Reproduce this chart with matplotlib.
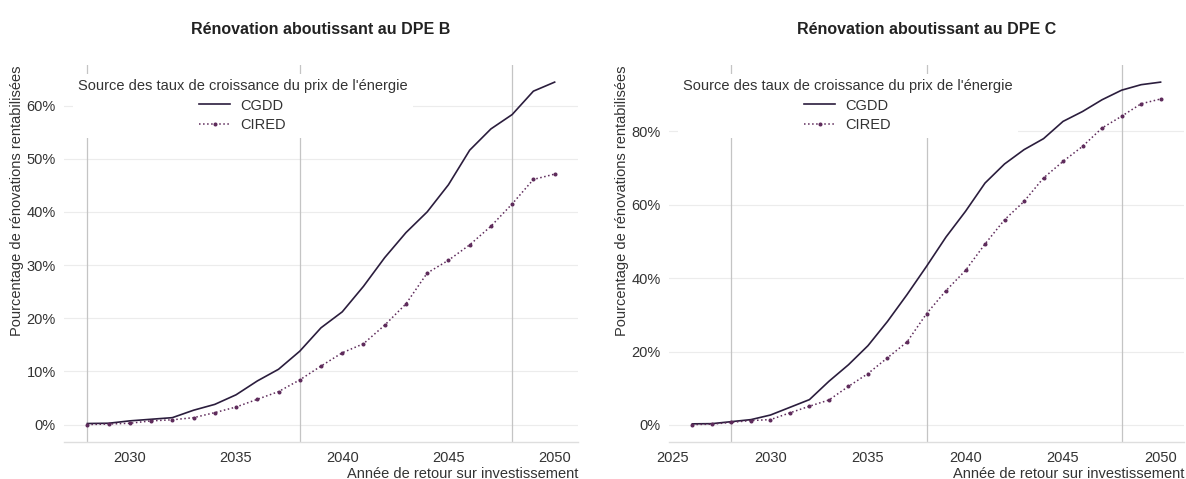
import matplotlib
matplotlib.use('Agg')
import matplotlib.pyplot as plt
from matplotlib.ticker import FuncFormatter, FixedLocator

# ---- data (percent) ----
years_b = list(range(2028, 2051))
cgdd_b = [0.2, 0.25, 0.7, 1.0, 1.3, 2.7, 3.8, 5.6, 8.2, 10.4, 13.8, 18.2, 21.2,
          26.0, 31.4, 36.1, 40.0, 45.1, 51.6, 55.6, 58.3, 62.7, 64.4]
cired_b = [0.0, 0.1, 0.25, 0.7, 0.9, 1.3, 2.25, 3.3, 4.75, 6.2, 8.4, 11.0, 13.5,
           15.2, 18.7, 22.7, 28.5, 30.9, 33.8, 37.3, 41.5, 46.1, 47.1]

years_c = list(range(2026, 2051))
cgdd_c = [0.3, 0.35, 0.9, 1.45, 2.7, 4.8, 6.9, 11.9, 16.4, 21.6, 28.2, 35.5, 43.2,
          51.2, 58.2, 65.9, 71.1, 75.0, 78.0, 82.7, 85.4, 88.6, 91.2, 92.7, 93.4]
cired_c = [0.1, 0.2, 0.7, 1.2, 1.45, 3.3, 5.1, 6.8, 10.5, 14.0, 18.3, 22.6, 30.3,
           36.6, 42.1, 49.3, 55.9, 60.9, 67.3, 71.8, 75.9, 80.9, 84.1, 87.5, 88.8]

vlines = [2028, 2038, 2048]
xticks_b = [2030, 2035, 2040, 2045, 2050]
xticks_c = [2025, 2030, 2035, 2040, 2045, 2050]
yticks_b = [0, 10, 20, 30, 40, 50, 60]
yticks_c = [0, 20, 40, 60, 80]

titles = ["Rénovation aboutissant au DPE B", "Rénovation aboutissant au DPE C"]
legend_title = "Source des taux de croissance du prix de l'énergie"
series_names = ["CGDD", "CIRED"]
xlabel = "Année de retour sur investissement"
ylabel = "Pourcentage de rénovations rentabilisées"

# ---- style ----
plt.rcParams['font.family'] = ['Liberation Sans', 'DejaVu Sans']
col_cgdd = '#2b1d3d'
col_cired = '#5e2b5b'
txt_col = '#333333'
fs = 10.5

W, H = 1186, 479
fig = plt.figure(figsize=(W / 100, H / 100), dpi=100)

def px_axes(l, r, t, b):
    return fig.add_axes([l / W, (H - b) / H, (r - l) / W, (b - t) / H])

axes = [px_axes(64, 578, 65, 441.7), px_axes(669, 1184, 65, 441.7)]
data = [(years_b, cgdd_b, cired_b, xticks_b, yticks_b),
        (years_c, cgdd_c, cired_c, xticks_c, yticks_c)]

for ax, (yrs, cg, ci, xt, yt), title in zip(axes, data, titles):
    ax.set_facecolor('white')
    for s in ['left', 'right', 'top']:
        ax.spines[s].set_visible(False)
    ax.spines['bottom'].set_color('#dedede')
    ax.spines['bottom'].set_linewidth(1.0)
    ax.yaxis.grid(True, color='#ececec', linewidth=0.8, zorder=0)
    ax.xaxis.grid(False)
    ax.set_axisbelow(True)
    for v in vlines:
        ax.axvline(v, color='#c4c4c4', linewidth=0.9, zorder=1)
    ax.plot(yrs, cg, color=col_cgdd, linewidth=1.2, linestyle='-',
            label=series_names[0], zorder=3)
    ax.plot(yrs, ci, color=col_cired, linewidth=1.1, linestyle=':',
            marker='o', markersize=1.9, label=series_names[1], zorder=3)
    ax.margins(x=0.05, y=0.05)
    ax.xaxis.set_major_locator(FixedLocator(xt))
    ax.yaxis.set_major_locator(FixedLocator(yt))
    ax.yaxis.set_major_formatter(FuncFormatter(lambda v, p: f"{v:.0f}%"))
    ax.tick_params(axis='both', length=0, labelsize=fs, labelcolor=txt_col)
    ax.tick_params(axis='y', pad=6)
    ax.tick_params(axis='x', pad=7)
    ax.set_xlabel(xlabel, loc='right', fontsize=fs, color=txt_col, labelpad=1)
    ax.set_ylabel(ylabel, loc='top', fontsize=fs, color=txt_col, labelpad=2)
    ax.set_title(title, fontsize=11.5, fontweight='bold', color='#222222', pad=22)
    leg = ax.legend(title=legend_title, loc='upper left',
                    bbox_to_anchor=(0.017, 0.977), borderaxespad=0,
                    frameon=True, facecolor='white', edgecolor='none',
                    framealpha=1, fontsize=fs, title_fontsize=fs,
                    handlelength=2.1, handletextpad=0.7, labelspacing=0.4,
                    borderpad=0.35)
    leg.get_title().set_color(txt_col)
    for t in leg.get_texts():
        t.set_color(txt_col)
    leg.set_zorder(5)

fig.savefig('out.png', dpi=100, facecolor='white')
